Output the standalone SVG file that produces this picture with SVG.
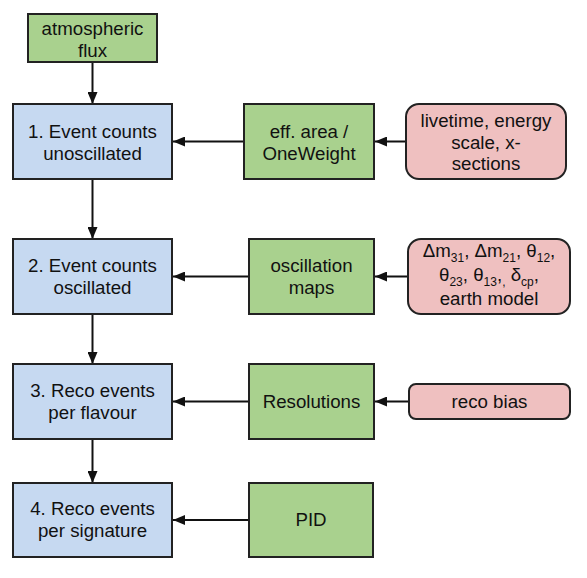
<svg xmlns="http://www.w3.org/2000/svg" width="587" height="578" viewBox="0 0 587 578">
<style>
.box{stroke:#222;stroke-width:2}
.blue{fill:#c6d9f1}
.green{fill:#a9d18e}
.pink{fill:#efc0c0}
text{font-family:"Liberation Sans",Arial,sans-serif;font-size:18.7px;fill:#111;text-anchor:middle}
.sub{font-size:12px}
.conn line{stroke:#111;stroke-width:2}
</style>
<defs>
<marker id="ah" viewBox="0 0 12 10" refX="12" refY="5" markerWidth="12" markerHeight="10" markerUnits="userSpaceOnUse" orient="auto">
<path d="M0,0 L12,5 L0,10 Z" fill="#111"/>
</marker>
</defs>
<rect width="587" height="578" fill="#fff"/>
<g class="conn">
<line x1="92.5" y1="62" x2="92.5" y2="104" marker-end="url(#ah)"/>
<line x1="92.5" y1="179" x2="92.5" y2="239" marker-end="url(#ah)"/>
<line x1="92.5" y1="314" x2="92.5" y2="364" marker-end="url(#ah)"/>
<line x1="92.5" y1="439" x2="92.5" y2="483" marker-end="url(#ah)"/>
<line x1="244" y1="141.5" x2="173" y2="141.5" marker-end="url(#ah)"/>
<line x1="406" y1="141.5" x2="375" y2="141.5" marker-end="url(#ah)"/>
<line x1="249" y1="276.5" x2="173" y2="276.5" marker-end="url(#ah)"/>
<line x1="408" y1="276.5" x2="375" y2="276.5" marker-end="url(#ah)"/>
<line x1="249" y1="401.5" x2="173" y2="401.5" marker-end="url(#ah)"/>
<line x1="409" y1="401.5" x2="375" y2="401.5" marker-end="url(#ah)"/>
<line x1="249" y1="520" x2="173" y2="520" marker-end="url(#ah)"/>
</g>
<g id="flux">
<rect class="box green" x="28" y="14" width="129" height="48"/>
<text x="92.5" y="34.5">atmospheric</text>
<text x="92.5" y="56.5">flux</text>
</g>
<g id="step1">
<rect class="box blue" x="13" y="104" width="159" height="75"/>
<text x="92.5" y="138">1. Event counts</text>
<text x="92.5" y="160">unoscillated</text>
</g>
<g id="effarea">
<rect class="box green" x="244" y="104" width="130" height="75"/>
<text x="309" y="138">eff. area /</text>
<text x="309" y="160">OneWeight</text>
</g>
<g id="livetime">
<rect class="box pink" x="406" y="104" width="160" height="75" rx="13"/>
<text x="486" y="127">livetime, energy</text>
<text x="486" y="148.5">scale, x-</text>
<text x="486" y="170">sections</text>
</g>
<g id="step2">
<rect class="box blue" x="13" y="239" width="159" height="75"/>
<text x="92.5" y="272">2. Event counts</text>
<text x="92.5" y="293.5">oscillated</text>
</g>
<g id="oscmaps">
<rect class="box green" x="249" y="239" width="125" height="75"/>
<text x="311.5" y="272">oscillation</text>
<text x="311.5" y="293.5">maps</text>
</g>
<g id="oscparams">
<rect class="box pink" x="408" y="239" width="162" height="75" rx="13"/>
<text x="489" y="257">Δm<tspan class="sub" dy="5">31</tspan><tspan dy="-5">, Δm</tspan><tspan class="sub" dy="5">21</tspan><tspan dy="-5">, θ</tspan><tspan class="sub" dy="5">12</tspan><tspan dy="-5">,</tspan></text>
<text x="489" y="281">θ<tspan class="sub" dy="5">23</tspan><tspan dy="-5">, θ</tspan><tspan class="sub" dy="5">13</tspan><tspan dy="-5">,</tspan><tspan class="sub" dy="5">,</tspan><tspan dy="-5"> δ</tspan><tspan class="sub" dy="5">cp</tspan><tspan dy="-5">,</tspan></text>
<text x="489" y="305">earth model</text>
</g>
<g id="step3">
<rect class="box blue" x="13" y="364" width="159" height="75"/>
<text x="92.5" y="397">3. Reco events</text>
<text x="92.5" y="418.5">per flavour</text>
</g>
<g id="resolutions">
<rect class="box green" x="249" y="364" width="125" height="75"/>
<text x="311.5" y="408">Resolutions</text>
</g>
<g id="recobias">
<rect class="box pink" x="409" y="384" width="161" height="35" rx="7"/>
<text x="489.5" y="408">reco bias</text>
</g>
<g id="step4">
<rect class="box blue" x="13" y="483" width="159" height="74"/>
<text x="92.5" y="515">4. Reco events</text>
<text x="92.5" y="537">per signature</text>
</g>
<g id="pid">
<rect class="box green" x="249" y="483" width="124" height="74"/>
<text x="311" y="526">PID</text>
</g>
</svg>
